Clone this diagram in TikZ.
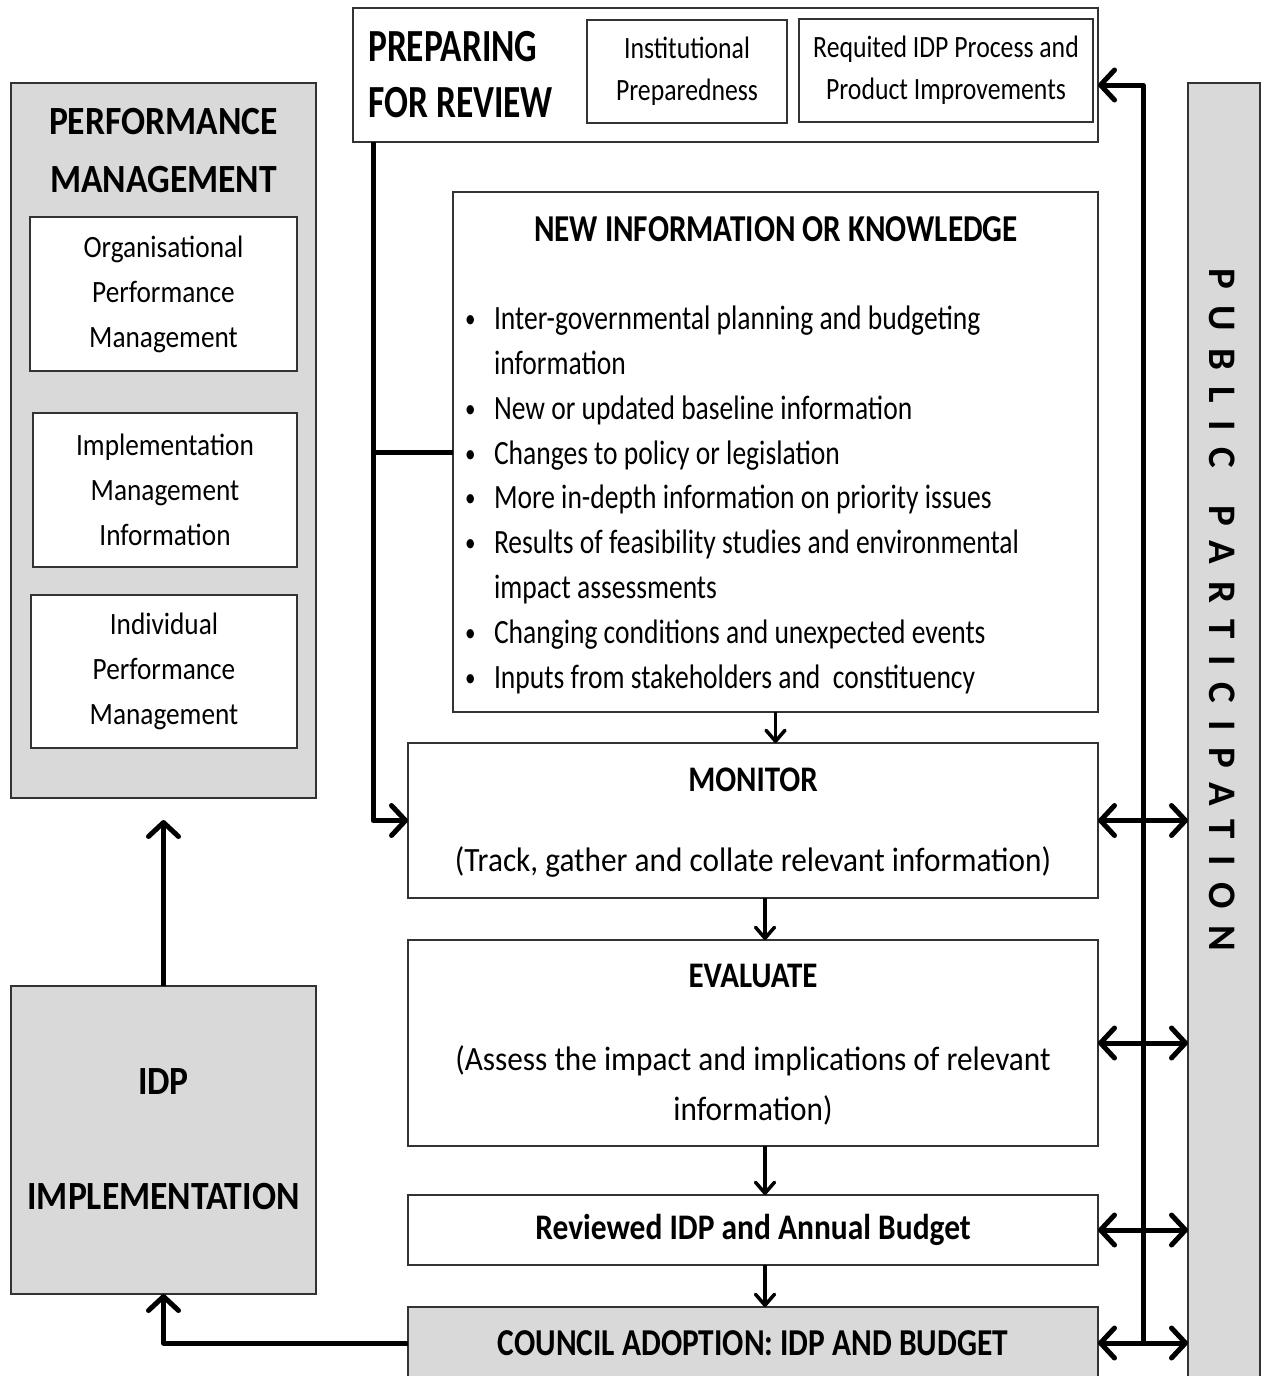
\documentclass[tikz,border=0pt]{standalone}
\usepackage{fontspec}
\setmainfont{Carlito}
\newcommand\sx[1]{\addfontfeatures{FakeStretch=#1}}
\newcommand\fs[2]{\fontsize{#1}{#2}\selectfont}
\usetikzlibrary{arrows.meta,calc}
\definecolor{boxgray}{HTML}{D9D9D9}
\definecolor{edge}{HTML}{333333}
\begin{document}
\begin{tikzpicture}[x=1pt,y=-1pt,
  box/.style={draw=edge, line width=2pt, fill=white, inner sep=0pt, outer sep=0pt},
  graybox/.style={box, fill=boxgray},
  txt/.style={inner sep=0pt, outer sep=0pt, align=center},
  bigline/.style={line width=5pt, line join=round},
  bigarrow/.style={bigline, -{Straight Barb[length=14pt,width=30pt,round]}},
  dblarrow/.style={bigline, {Straight Barb[length=14pt,width=30pt,round]}-{Straight Barb[length=14pt,width=30pt,round]}},
  smallarrow/.style={line width=3.5pt, -{Straight Barb[length=11pt,width=19pt,round]}},
  bul/.style={inner sep=0pt, outer sep=0pt, anchor=base west, font=\fs{34}{40}\sx{0.81}}
]
\useasboundingbox (0,0) rectangle (1262,1376);
\newcommand\bu{\makebox[29pt][l]{\raisebox{2pt}{\fs{26}{26}•}}}

% ---- left column ----
\node[graybox, minimum width=305pt, minimum height=715pt] (pm) at (163.5,440.5) {};
\node[txt, font=\fs{40}{58}\bfseries\sx{0.89}] (pmt) at (163.5,151) {PERFORMANCE\\MANAGEMENT};
\node[box, minimum width=267pt, minimum height=154pt, align=center, font=\fs{31}{45}\sx{0.88}] (pm1) at (163.5,294) {Organisational\\Performance\\Management};
\node[box, minimum width=264pt, minimum height=154pt, align=center, font=\fs{31}{45}\sx{0.88}] (pm2) at (165,490) {Implementation\\Management\\Information};
\node[box, minimum width=266pt, minimum height=153pt, align=center, font=\fs{31}{45}\sx{0.88}] (pm3) at (164,671.5) {Individual\\Performance\\Management};

\node[graybox, minimum width=305pt, minimum height=308pt] (idp) at (163.5,1140) {};
\node[txt, font=\fs{40}{48}\bfseries\sx{0.89}] (idpt1) at (163.5,1082) {IDP};
\node[txt, font=\fs{40}{48}\bfseries\sx{0.89}] (idpt2) at (163.5,1197) {IMPLEMENTATION};

% ---- preparing for review ----
\node[box, minimum width=745pt, minimum height=134pt] (prep) at (725.5,75) {};
\node[inner sep=0pt, anchor=west, align=left, font=\fs{46}{56}\bfseries\sx{0.77}] (prept) at (368,75) {PREPARING\\FOR REVIEW};
\node[box, minimum width=200pt, minimum height=103pt, align=center, font=\fs{31}{42}\sx{0.83}] (inst) at (687,71.5) {Institutional\\Preparedness};
\node[box, minimum width=294pt, minimum height=103pt, align=center, font=\fs{31}{42}\sx{0.83}] (req) at (946,70.5) {Requited IDP Process and\\Product Improvements};

% ---- new information ----
\node[box, minimum width=645pt, minimum height=520pt] (newinfo) at (775.5,452) {};
\node[txt, font=\fs{38}{44}\bfseries\sx{0.82}] (newt) at (776,229) {NEW INFORMATION OR KNOWLEDGE};
\node[bul] (b1) at (465,329) {\bu Inter-governmental planning and budgeting};
\node[bul] (b2) at (494,374) {information};
\node[bul] (b3) at (465,419) {\bu New or updated baseline information};
\node[bul] (b4) at (465,464) {\bu Changes to policy or legislation};
\node[bul] (b5) at (465,508) {\bu More in-depth information on priority issues};
\node[bul] (b6) at (465,553) {\bu Results of feasibility studies and environmental};
\node[bul] (b7) at (494,598) {impact assessments};
\node[bul] (b8) at (465,643) {\bu Changing conditions and unexpected events};
\node[bul] (b9) at (465,688) {\bu Inputs from stakeholders and\ \ constituency};

% ---- monitor / evaluate ----
\node[box, minimum width=690pt, minimum height=155pt] (monitor) at (753,820.5) {};
\node[txt, font=\fs{36}{44}\bfseries\sx{0.86}] (mont) at (753,780) {MONITOR};
\node[txt, font=\fs{34}{44}\sx{0.92}] (mons) at (753,862) {(Track, gather and collate relevant information)};

\node[box, minimum width=690pt, minimum height=206pt] (evaluate) at (753,1043) {};
\node[txt, font=\fs{36}{44}\bfseries\sx{0.86}] (evt) at (753,976) {EVALUATE};
\node[txt, font=\fs{34}{50}\sx{0.92}] (evs) at (753,1085) {(Assess the impact and implications of relevant\\information)};

\node[box, minimum width=690pt, minimum height=70pt, font=\fs{36}{40}\bfseries\sx{0.874}] (reviewed) at (753,1230) {Reviewed IDP and Annual Budget};

\node[graybox, minimum width=690pt, minimum height=72pt, font=\fs{38}{40}\bfseries\sx{0.827}] (council) at (753,1343) {COUNCIL ADOPTION: IDP AND BUDGET};

% ---- public participation ----
\node[graybox, minimum width=72pt, minimum height=1310pt] (public) at (1224,738) {};
\node[txt, rotate=-90, font=\fs{39}{40}\bfseries\addfontfeatures{LetterSpace=43}] (pubt) at (1222,610) {PUBLIC\hspace{38pt}PARTICIPATION};

% ---- connectors ----
\coordinate (lx) at (373,0);
\coordinate (cx) at (765,0);
\coordinate (bus) at (1143,85);

\draw[bigarrow] (prep.south -| lx) |- (monitor.west);
\draw[bigline] (newinfo.west) -- (newinfo.west -| lx);
\draw[smallarrow] (newinfo.south) -- (newinfo.south |- monitor.north);
\draw[smallarrow] (monitor.south -| cx) -- (evaluate.north -| cx);
\draw[smallarrow] (evaluate.south -| cx) -- (reviewed.north -| cx);
\draw[smallarrow] (reviewed.south -| cx) -- (council.north -| cx);

\draw[bigarrow] (council.west) -| (idp.south);
\draw[bigarrow, shorten >=22pt] (idp.north) -- (pm.south);

\draw[bigarrow] (council.east -| bus) -- (bus) -- (bus -| prep.east);
\draw[dblarrow] (monitor.east) -- (monitor.east -| public.west);
\draw[dblarrow] (evaluate.east) -- (evaluate.east -| public.west);
\draw[dblarrow] (reviewed.east) -- (reviewed.east -| public.west);
\draw[dblarrow] (council.east) -- (council.east -| public.west);
\end{tikzpicture}
\end{document}
